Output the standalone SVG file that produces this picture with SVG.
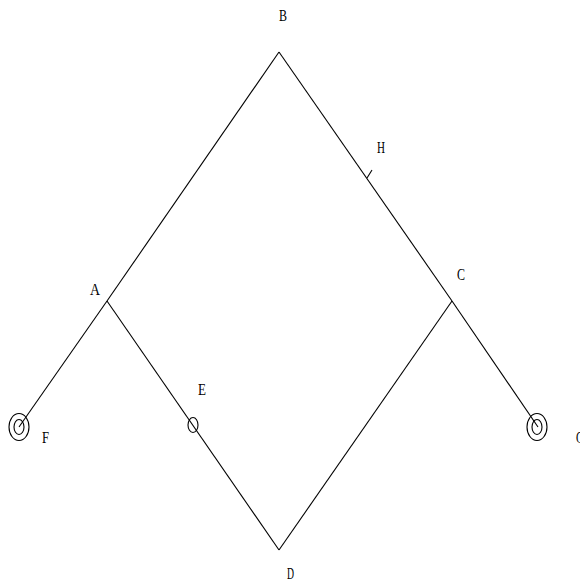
<svg xmlns="http://www.w3.org/2000/svg" width="580" height="582" viewBox="0 0 580 582">
<style>
.l{stroke:#000;stroke-width:1.1;fill:none}
.c{stroke:#000;stroke-width:1.1;fill:none}
.t{font-family:"Liberation Serif",serif;font-size:17px;fill:#000}
</style>
<rect width="580" height="582" fill="#fff"/>
<g id="connectors">
<line class="l" x1="279" y1="52" x2="107" y2="301"/>
<line class="l" x1="107" y1="301" x2="19" y2="427"/>
<line class="l" x1="279" y1="52" x2="452" y2="301"/>
<line class="l" x1="452" y1="301" x2="538" y2="427"/>
<line class="l" x1="107" y1="301" x2="279" y2="550"/>
<line class="l" x1="452" y1="301" x2="279" y2="550"/>
<line class="l" x1="367" y1="178" x2="372" y2="170"/>
</g>
<g id="B"><text class="t" x="279" y="21" textLength="8" lengthAdjust="spacingAndGlyphs">B</text></g>
<g id="H"><text class="t" x="377" y="153" textLength="8" lengthAdjust="spacingAndGlyphs">H</text></g>
<g id="C"><text class="t" x="457" y="280" textLength="8" lengthAdjust="spacingAndGlyphs">C</text></g>
<g id="A"><text class="t" x="90" y="295" textLength="10" lengthAdjust="spacingAndGlyphs">A</text></g>
<g id="E"><ellipse class="c" cx="193" cy="425" rx="5" ry="7.5"/><text class="t" x="198" y="395" textLength="8" lengthAdjust="spacingAndGlyphs">E</text></g>
<g id="F"><ellipse class="c" cx="19" cy="427" rx="10" ry="13.5"/><ellipse class="c" cx="19" cy="427" rx="5" ry="7.5"/><text class="t" x="42" y="443" textLength="7" lengthAdjust="spacingAndGlyphs">F</text></g>
<g id="G"><ellipse class="c" cx="537" cy="427" rx="10" ry="13.5"/><ellipse class="c" cx="537" cy="427" rx="5" ry="7.5"/><text class="t" x="576" y="443" textLength="8" lengthAdjust="spacingAndGlyphs">G</text></g>
<g id="D"><text class="t" x="287" y="579" textLength="7" lengthAdjust="spacingAndGlyphs">D</text></g>
</svg>
